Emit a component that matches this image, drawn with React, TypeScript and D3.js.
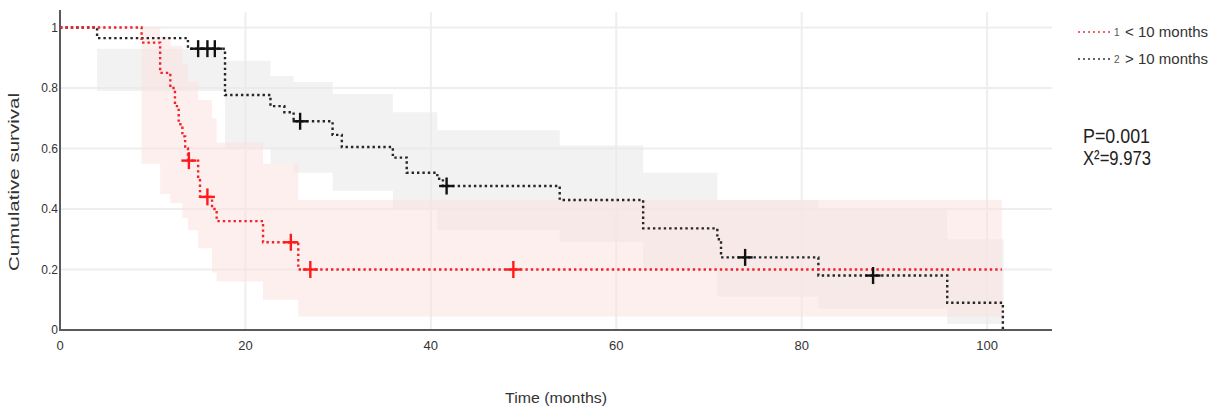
import React from 'react';
import * as d3 from 'd3';

// Kaplan-Meier estimates
const shortTimes = [0, 8.8, 10.8, 11.9, 12.4, 12.8, 13.2, 13.5, 13.8, 14.9, 15.1, 16.4, 16.9, 21.9, 25.7];
const shortSurv = [1, 0.95, 0.85, 0.8, 0.74, 0.68, 0.64, 0.6, 0.56, 0.5, 0.44, 0.4, 0.36, 0.29, 0.2];
const shortEnd = 101.6;
const shortCensorT = [13.9, 15.9, 24.9, 27.0, 48.9];
const shortCensorS = [0.56, 0.44, 0.29, 0.2, 0.2];

const longTimes = [0, 4.0, 13.8, 17.8, 22.7, 24.2, 25.2, 29.4, 30.4, 35.9, 37.4, 40.7, 41.3, 53.9, 62.9, 70.9, 71.3, 81.8, 95.7, 101.7];
const longSurv = [1, 0.965, 0.93, 0.777, 0.74, 0.72, 0.69, 0.645, 0.605, 0.57, 0.52, 0.5, 0.476, 0.43, 0.336, 0.3, 0.24, 0.18, 0.09, 0.0];
const longEnd = 101.8;
const longCensorT = [14.9, 15.9, 16.7, 25.9, 41.7, 73.9, 87.7];
const longCensorS = [0.93, 0.93, 0.93, 0.69, 0.476, 0.24, 0.18];

// confidence bands (step functions)
const shortCiT = [8.8, 10.8, 11.9, 13.2, 13.8, 14.9, 16.4, 16.9, 21.9, 25.7];
const shortCiLo = [0.55, 0.45, 0.42, 0.37, 0.33, 0.27, 0.19, 0.16, 0.1, 0.045];
const shortCiHi = [1.0, 0.97, 0.94, 0.88, 0.82, 0.76, 0.7, 0.62, 0.55, 0.43];

const longCiT = [4.0, 17.8, 22.7, 25.2, 29.4, 35.9, 40.7, 53.9, 62.9, 70.9, 81.8, 95.7];
const longCiLo = [0.79, 0.6, 0.55, 0.52, 0.46, 0.4, 0.33, 0.29, 0.2, 0.11, 0.07, 0.02];
const longCiHi = [0.93, 0.89, 0.84, 0.82, 0.78, 0.72, 0.66, 0.61, 0.52, 0.43, 0.4, 0.3];

const xTicks = [0, 20, 40, 60, 80, 100];
const yTicks = [0, 0.2, 0.4, 0.6, 0.8, 1];
const yTickLabels = ['0', '0.2', '0.4', '0.6', '0.8', '1'];

const RED = '#f0222a';
const BLACK = '#262626';
const NARROW = '"Liberation Sans Narrow", "Arial Narrow", "Liberation Sans", Arial, sans-serif';

export default function App() {
  const x = d3.scaleLinear().domain([0, 107]).range([60, 1052]);
  const y = d3.scaleLinear().domain([0, 1]).range([330, 27.5]);

  const stepLine = d3
    .line<[number, number]>()
    .x((d) => x(d[0]))
    .y((d) => y(d[1]))
    .curve(d3.curveStepAfter);

  const band = d3
    .area<[number, number, number]>()
    .x((d) => x(d[0]))
    .y0((d) => y(d[1]))
    .y1((d) => y(d[2]))
    .curve(d3.curveStepAfter);

  const curvePts = (ts: number[], ss: number[], end: number): [number, number][] => {
    const pts = ts.map((t, i) => [t, ss[i]] as [number, number]);
    pts.push([end, ss[ss.length - 1]]);
    return pts;
  };

  const bandPts = (ts: number[], lo: number[], hi: number[], end: number): [number, number, number][] => {
    const pts = ts.map((t, i) => [t, lo[i], hi[i]] as [number, number, number]);
    pts.push([end, lo[lo.length - 1], hi[hi.length - 1]]);
    return pts;
  };

  const cross = (t: number, s: number, color: string, key: string) => (
    <g key={key} stroke={color} strokeWidth={2.4}>
      <line x1={x(t) - 7.5} x2={x(t) + 7.5} y1={y(s)} y2={y(s)} />
      <line x1={x(t)} x2={x(t)} y1={y(s) - 8.5} y2={y(s) + 8.5} />
    </g>
  );

  return (
    <div style={{ position: 'absolute', left: 0, top: 0 }}>
      <svg width={1214} height={407} style={{ display: 'block', background: '#fff' }}>
        {/* grid */}
        {yTicks.slice(1).map((v) => (
          <line key={'gy' + v} x1={x(0)} x2={1052} y1={y(v)} y2={y(v)} stroke="#eeeeee" strokeWidth={2} />
        ))}
        {xTicks.slice(1).map((v) => (
          <line key={'gx' + v} x1={x(v)} x2={x(v)} y1={12} y2={330} stroke="#eeeeee" strokeWidth={2} />
        ))}

        {/* confidence bands */}
        <path d={band(bandPts(longCiT, longCiLo, longCiHi, longEnd)) || ''} fill="#e9e9eb" opacity={0.6} />
        <path d={band(bandPts(shortCiT, shortCiLo, shortCiHi, shortEnd)) || ''} fill="#fde0e0" opacity={0.5} />

        {/* axes */}
        <line x1={60} x2={60} y1={10} y2={331} stroke="#5a5a5a" strokeWidth={2} />
        <line x1={59} x2={1052} y1={330} y2={330} stroke="#5a5a5a" strokeWidth={2} />

        {yTicks.map((v, i) => (
          <text key={'yt' + v} x={58} y={y(v)} dy="0.35em" textAnchor="end" fontSize={12} fill="#333" fontFamily={NARROW}>
            {yTickLabels[i]}
          </text>
        ))}
        {xTicks.map((v) => (
          <text key={'xt' + v} x={x(v)} y={345} dy="0.35em" textAnchor="middle" fontSize={13} fill="#333" fontFamily={NARROW}>
            {v}
          </text>
        ))}

        <text
          transform="translate(19,182) rotate(-90)"
          textAnchor="middle"
          fontSize={15}
          fill="#333"
          fontFamily={NARROW}
          textLength={178}
          lengthAdjust="spacingAndGlyphs"
        >
          Cumulative survival
        </text>
        <text x={556} y={398} dy="0.35em" textAnchor="middle" fontSize={15} fill="#333" fontFamily={NARROW} textLength={102} lengthAdjust="spacingAndGlyphs">
          Time (months)
        </text>

        {/* survival curves */}
        <path d={stepLine(curvePts(longTimes, longSurv, longEnd)) || ''} fill="none" stroke={BLACK} strokeWidth={2.4} strokeDasharray="2.4 3" />
        <path d={stepLine(curvePts(shortTimes, shortSurv, shortEnd)) || ''} fill="none" stroke={RED} strokeWidth={2.4} strokeDasharray="2.4 3" />

        {/* censored marks */}
        {longCensorT.map((t, i) => cross(t, longCensorS[i], '#111', 'lc' + i))}
        {shortCensorT.map((t, i) => cross(t, shortCensorS[i], '#ff1a1a', 'sc' + i))}

        {/* legend */}
        <line x1={1078} x2={1110} y1={32} y2={32} stroke={RED} strokeWidth={2} strokeDasharray="2 3" opacity={0.7} />
        <text x={1114} y={32} dy="0.35em" fontSize={10} fill="#555" fontFamily={NARROW}>1</text>
        <text x={1125} y={32} dy="0.35em" fontSize={14} fill="#333" fontFamily={NARROW} textLength={83} lengthAdjust="spacingAndGlyphs">
          {'< 10 months'}
        </text>
        <line x1={1078} x2={1110} y1={59} y2={59} stroke={BLACK} strokeWidth={2} strokeDasharray="2 3" opacity={0.7} />
        <text x={1114} y={59} dy="0.35em" fontSize={10} fill="#555" fontFamily={NARROW}>2</text>
        <text x={1125} y={59} dy="0.35em" fontSize={14} fill="#333" fontFamily={NARROW} textLength={83} lengthAdjust="spacingAndGlyphs">
          {'> 10 months'}
        </text>

        {/* test statistics */}
        <text x={1083} y={143} fontSize={21} fill="#222" fontFamily={NARROW} textLength={67} lengthAdjust="spacingAndGlyphs">
          P=0.001
        </text>
        <text x={1083} y={165} fontSize={21} fill="#222" fontFamily={NARROW} textLength={68} lengthAdjust="spacingAndGlyphs">
          X²=9.973
        </text>
      </svg>
    </div>
  );
}
